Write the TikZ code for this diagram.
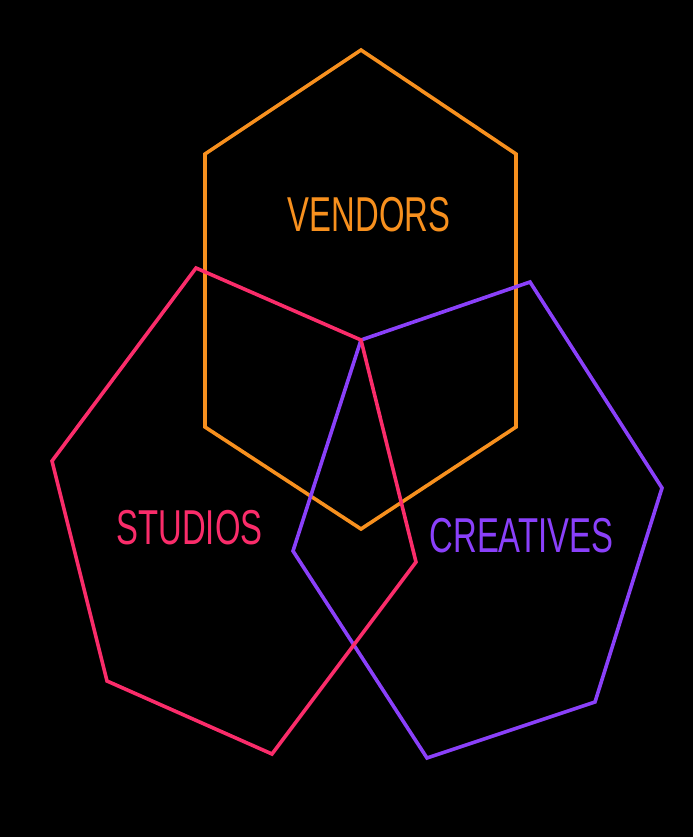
\documentclass[tikz,border=0pt]{standalone}
\usepackage{fontspec}
\setmainfont{Liberation Sans}
\usepackage{xcolor}
\usepackage{tikz}
\usetikzlibrary{positioning}

\definecolor{vendorcol}{HTML}{F7901E}
\definecolor{studiocol}{HTML}{FA2C6A}
\definecolor{creativecol}{HTML}{8A40FA}

\begin{document}
\begin{tikzpicture}[
    x=1pt, y=-1pt,
    outline/.style={line width=3.6pt, line join=miter},
    tagtext/.style={font=\fontsize{49}{49}\selectfont, xscale=0.67, inner sep=0pt}
]
    % Background
    \fill[black] (0,0) rectangle (693,837);
    \useasboundingbox (0,0) rectangle (693,837);

    % Shared corner
    \coordinate (mid) at (361,340);

    % Vendors
    \draw[outline, vendorcol] (361,50) -- (516,154) -- (516,427) -- (361,529) -- (205,427) -- (205,154) -- cycle;

    % Creatives
    \draw[outline, creativecol] (mid) -- (530,282) -- (662,488) -- (595,702) -- (427,758) -- (293,551) -- cycle;

    % Studios
    \draw[outline, studiocol] (196,268) -- (mid) -- (416,562) -- (272,754) -- (107,681) -- (52,461) -- cycle;

    % Labels
    \node[tagtext, text=vendorcol] (vendors) at (369,214.5) {VENDORS};
    \node[tagtext, text=studiocol] (studios) at (189.5,527.5) {STUDIOS};
    \node[tagtext, text=creativecol] (creatives) at (521.5,535.5) {CREATIVES};
\end{tikzpicture}
\end{document}
